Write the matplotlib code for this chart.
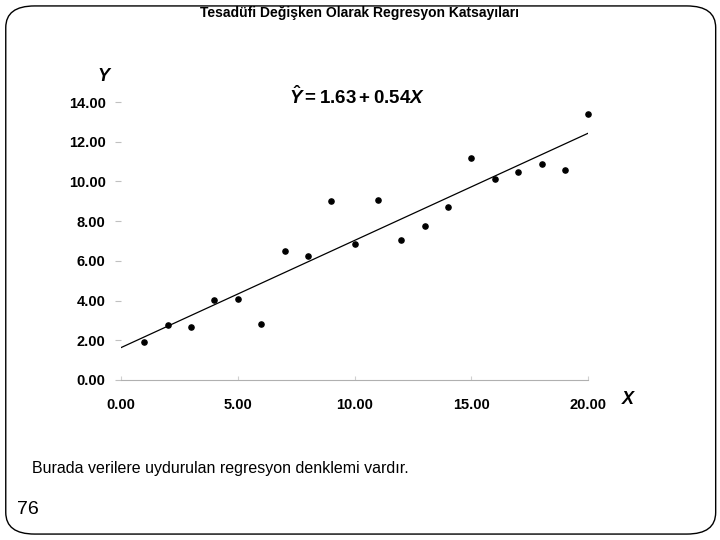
import numpy as np
import matplotlib
matplotlib.use("Agg")
import matplotlib.pyplot as plt
from matplotlib.patches import FancyBboxPatch

# Data
x_vals = [1, 2, 3, 4, 5, 6, 7, 8, 9, 10, 11, 12, 13, 14, 15, 16, 17, 18, 19, 20]
y_vals = [1.90, 2.75, 2.65, 4.01, 4.10, 2.80, 6.50, 6.23, 9.01, 6.87,
          9.06, 7.05, 7.77, 8.73, 11.16, 10.14, 10.49, 10.86, 10.57, 13.39]
b0, b1 = 1.63, 0.54
x_ticks = [0, 5, 10, 15, 20]
y_ticks = [0, 2, 4, 6, 8, 10, 12, 14]

plt.rcParams["font.family"] = ["Liberation Sans", "DejaVu Sans"]
plt.rcParams["mathtext.fontset"] = "custom"
plt.rcParams["mathtext.rm"] = "Liberation Sans:bold"
plt.rcParams["mathtext.it"] = "Liberation Sans:italic:bold"
plt.rcParams["mathtext.bf"] = "Liberation Sans:bold"

fig = plt.figure(figsize=(7.2, 5.4), dpi=100)

# slide frame
frame = FancyBboxPatch((0.008, 0.011), 0.986, 0.978,
                       boxstyle="round,pad=0,rounding_size=0.04",
                       transform=fig.transFigure, fill=False,
                       edgecolor="black", linewidth=1.0)
fig.patches.append(frame)

fig.text(0.5, 0.976, "Tesadüfi Değişken Olarak Regresyon Katsayıları",
         ha="center", va="center", fontsize=10, fontweight="bold")

ax = fig.add_axes([0.168, 0.2963, 0.649, 0.5148])
ax.scatter(x_vals, y_vals, s=14, color="black", zorder=3, clip_on=False)
xl = np.array([0, 20])
ax.plot(xl, b0 + b1 * xl, color="black", linewidth=0.9)

ax.set_xlim(0, 20)
ax.set_ylim(0, 14)
ax.set_xticks(x_ticks)
ax.set_yticks(y_ticks)
ax.set_xticklabels([f"{v:.2f}" for v in x_ticks], fontweight="bold", fontsize=10.5)
ax.set_yticklabels([f"{v:.2f}" for v in y_ticks], fontweight="bold", fontsize=10.5)
for s in ["top", "right", "left"]:
    ax.spines[s].set_visible(False)
ax.spines["bottom"].set_color("#b0b0b0")
ax.spines["bottom"].set_linewidth(0.8)
ax.tick_params(axis="y", length=4, color="#c0c0c0", pad=7)
ax.tick_params(axis="x", direction="in", length=3, color="#d0d0d0", pad=13)

ax.text(-0.75, 15.3, "Y", fontsize=13, fontweight="bold", style="italic",
        ha="center", va="center")
ax.text(21.7, -1.0, "X", fontsize=13, fontweight="bold", style="italic",
        ha="center", va="center", clip_on=False)
ax.text(7.2, 14.25, r"$\hat{Y} = 1.63 + 0.54X$", fontsize=13.5,
        ha="left", va="center")

fig.text(0.044, 0.133, "Burada verilere uydurulan regresyon denklemi vardır.",
         ha="left", va="center", fontsize=11.5)
fig.text(0.024, 0.057, "76", ha="left", va="center", fontsize=14)

fig.savefig("out.png", dpi=100)
